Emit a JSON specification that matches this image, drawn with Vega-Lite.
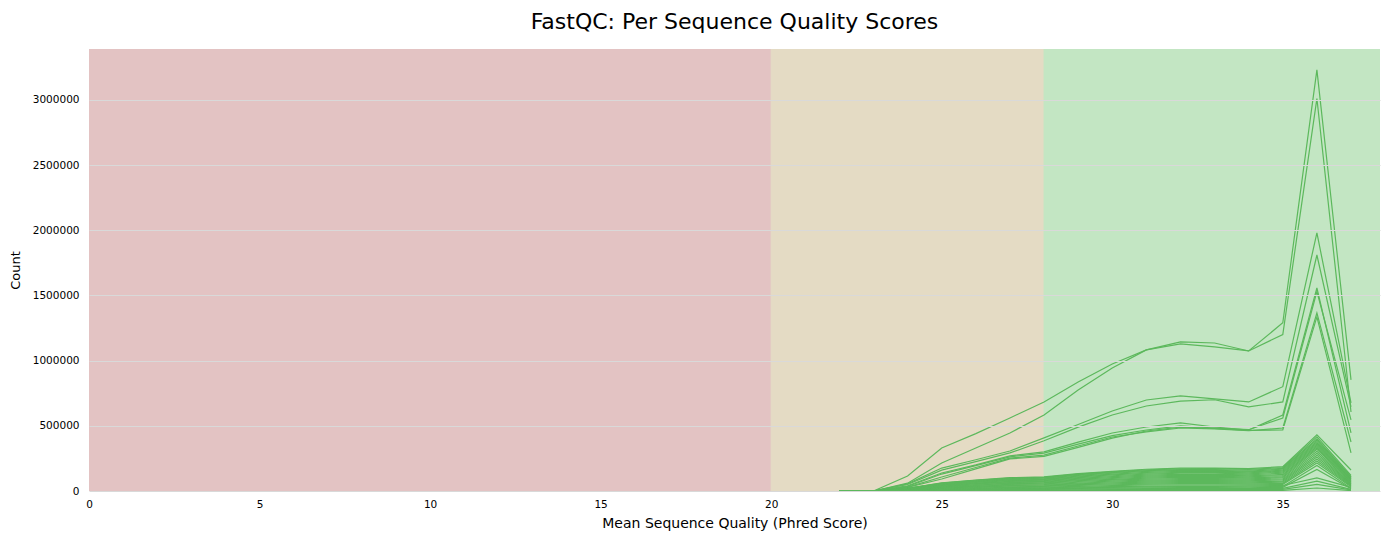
{
"$schema":"https://vega.github.io/schema/vega-lite/v6.json",
"autosize":{"type":"none"},
"width":1291,"height":442,
"padding":{"left":89,"top":49,"right":9,"bottom":49},
"background":"#ffffff",
"config":{"font":"DejaVu Sans","view":{"stroke":null},
"axis":{"labelFont":"DejaVu Sans","titleFont":"DejaVu Sans","labelFontSize":10.5,"titleFontSize":13,"titleFontWeight":"normal","labelColor":"#000000","titleColor":"#000000","ticks":false,"domain":false,"labelFlush":false}},
"title":{"text":"FastQC: Per Sequence Quality Scores","fontSize":22,"fontWeight":"normal","font":"DejaVu Sans","color":"#000000","anchor":"middle","offset":15},
"datasets":{
"bands":[{"zone":"fail","start":0,"end":20},{"zone":"warn","start":20,"end":28},{"zone":"pass","start":28,"end":38}],
"series":[
{"s":"T1","q":22,"c":0},{"s":"T1","q":23,"c":0},{"s":"T1","q":24,"c":115000},{"s":"T1","q":25,"c":330000},{"s":"T1","q":26,"c":440000},{"s":"T1","q":27,"c":560000},{"s":"T1","q":28,"c":683000},{"s":"T1","q":29,"c":836000},{"s":"T1","q":30,"c":974000},{"s":"T1","q":31,"c":1082000},{"s":"T1","q":32,"c":1128000},{"s":"T1","q":33,"c":1105000},{"s":"T1","q":34,"c":1074000},{"s":"T1","q":35,"c":1290000},{"s":"T1","q":36,"c":3230000},{"s":"T1","q":37,"c":852000},
{"s":"T2","q":22,"c":0},{"s":"T2","q":23,"c":0},{"s":"T2","q":24,"c":60000},{"s":"T2","q":25,"c":215000},{"s":"T2","q":26,"c":330000},{"s":"T2","q":27,"c":445000},{"s":"T2","q":28,"c":583000},{"s":"T2","q":29,"c":775000},{"s":"T2","q":30,"c":944000},{"s":"T2","q":31,"c":1082000},{"s":"T2","q":32,"c":1143000},{"s":"T2","q":33,"c":1135000},{"s":"T2","q":34,"c":1074000},{"s":"T2","q":35,"c":1200000},{"s":"T2","q":36,"c":3010000},{"s":"T2","q":37,"c":606000},
{"s":"M1","q":22,"c":0},{"s":"M1","q":23,"c":0},{"s":"M1","q":24,"c":55000},{"s":"M1","q":25,"c":176000},{"s":"M1","q":26,"c":240000},{"s":"M1","q":27,"c":307000},{"s":"M1","q":28,"c":407000},{"s":"M1","q":29,"c":510000},{"s":"M1","q":30,"c":614000},{"s":"M1","q":31,"c":698000},{"s":"M1","q":32,"c":729000},{"s":"M1","q":33,"c":706000},{"s":"M1","q":34,"c":683000},{"s":"M1","q":35,"c":800000},{"s":"M1","q":36,"c":1980000},{"s":"M1","q":37,"c":675000},
{"s":"M2","q":22,"c":0},{"s":"M2","q":23,"c":0},{"s":"M2","q":24,"c":50000},{"s":"M2","q":25,"c":160000},{"s":"M2","q":26,"c":225000},{"s":"M2","q":27,"c":292000},{"s":"M2","q":28,"c":385000},{"s":"M2","q":29,"c":490000},{"s":"M2","q":30,"c":583000},{"s":"M2","q":31,"c":652000},{"s":"M2","q":32,"c":690000},{"s":"M2","q":33,"c":700000},{"s":"M2","q":34,"c":645000},{"s":"M2","q":35,"c":683000},{"s":"M2","q":36,"c":1810000},{"s":"M2","q":37,"c":645000},
{"s":"M3","q":22,"c":0},{"s":"M3","q":23,"c":0},{"s":"M3","q":24,"c":40000},{"s":"M3","q":25,"c":138000},{"s":"M3","q":26,"c":200000},{"s":"M3","q":27,"c":269000},{"s":"M3","q":28,"c":300000},{"s":"M3","q":29,"c":375000},{"s":"M3","q":30,"c":445000},{"s":"M3","q":31,"c":491000},{"s":"M3","q":32,"c":522000},{"s":"M3","q":33,"c":491000},{"s":"M3","q":34,"c":468000},{"s":"M3","q":35,"c":583000},{"s":"M3","q":36,"c":1557000},{"s":"M3","q":37,"c":445000},
{"s":"M4","q":22,"c":0},{"s":"M4","q":23,"c":0},{"s":"M4","q":24,"c":35000},{"s":"M4","q":25,"c":130000},{"s":"M4","q":26,"c":195000},{"s":"M4","q":27,"c":262000},{"s":"M4","q":28,"c":290000},{"s":"M4","q":29,"c":360000},{"s":"M4","q":30,"c":425000},{"s":"M4","q":31,"c":468000},{"s":"M4","q":32,"c":499000},{"s":"M4","q":33,"c":483000},{"s":"M4","q":34,"c":470000},{"s":"M4","q":35,"c":560000},{"s":"M4","q":36,"c":1530000},{"s":"M4","q":37,"c":545000},
{"s":"M5","q":22,"c":0},{"s":"M5","q":23,"c":0},{"s":"M5","q":24,"c":30000},{"s":"M5","q":25,"c":107000},{"s":"M5","q":26,"c":180000},{"s":"M5","q":27,"c":252000},{"s":"M5","q":28,"c":275000},{"s":"M5","q":29,"c":345000},{"s":"M5","q":30,"c":414000},{"s":"M5","q":31,"c":453000},{"s":"M5","q":32,"c":483000},{"s":"M5","q":33,"c":476000},{"s":"M5","q":34,"c":462000},{"s":"M5","q":35,"c":483000},{"s":"M5","q":36,"c":1366000},{"s":"M5","q":37,"c":376000},
{"s":"M6","q":22,"c":0},{"s":"M6","q":23,"c":0},{"s":"M6","q":24,"c":28000},{"s":"M6","q":25,"c":92000},{"s":"M6","q":26,"c":170000},{"s":"M6","q":27,"c":246000},{"s":"M6","q":28,"c":265000},{"s":"M6","q":29,"c":335000},{"s":"M6","q":30,"c":406000},{"s":"M6","q":31,"c":460000},{"s":"M6","q":32,"c":490000},{"s":"M6","q":33,"c":480000},{"s":"M6","q":34,"c":465000},{"s":"M6","q":35,"c":468000},{"s":"M6","q":36,"c":1335000},{"s":"M6","q":37,"c":292000},
{"s":"L01","q":22,"c":0},{"s":"L01","q":23,"c":0},{"s":"L01","q":24,"c":21000},{"s":"L01","q":25,"c":62000},{"s":"L01","q":26,"c":84000},{"s":"L01","q":27,"c":102000},{"s":"L01","q":28,"c":109000},{"s":"L01","q":29,"c":134000},{"s":"L01","q":30,"c":151000},{"s":"L01","q":31,"c":167000},{"s":"L01","q":32,"c":176000},{"s":"L01","q":33,"c":176000},{"s":"L01","q":34,"c":171000},{"s":"L01","q":35,"c":187000},{"s":"L01","q":36,"c":430000},{"s":"L01","q":37,"c":161000},
{"s":"L02","q":22,"c":0},{"s":"L02","q":23,"c":0},{"s":"L02","q":24,"c":20000},{"s":"L02","q":25,"c":60000},{"s":"L02","q":26,"c":82000},{"s":"L02","q":27,"c":99000},{"s":"L02","q":28,"c":105000},{"s":"L02","q":29,"c":129000},{"s":"L02","q":30,"c":146000},{"s":"L02","q":31,"c":162000},{"s":"L02","q":32,"c":170000},{"s":"L02","q":33,"c":171000},{"s":"L02","q":34,"c":165000},{"s":"L02","q":35,"c":180000},{"s":"L02","q":36,"c":415000},{"s":"L02","q":37,"c":120000},
{"s":"L03","q":22,"c":0},{"s":"L03","q":23,"c":0},{"s":"L03","q":24,"c":20000},{"s":"L03","q":25,"c":57000},{"s":"L03","q":26,"c":79000},{"s":"L03","q":27,"c":95000},{"s":"L03","q":28,"c":102000},{"s":"L03","q":29,"c":125000},{"s":"L03","q":30,"c":141000},{"s":"L03","q":31,"c":156000},{"s":"L03","q":32,"c":164000},{"s":"L03","q":33,"c":165000},{"s":"L03","q":34,"c":159000},{"s":"L03","q":35,"c":174000},{"s":"L03","q":36,"c":400000},{"s":"L03","q":37,"c":110000},
{"s":"L04","q":22,"c":0},{"s":"L04","q":23,"c":0},{"s":"L04","q":24,"c":19000},{"s":"L04","q":25,"c":55000},{"s":"L04","q":26,"c":76000},{"s":"L04","q":27,"c":92000},{"s":"L04","q":28,"c":98000},{"s":"L04","q":29,"c":120000},{"s":"L04","q":30,"c":136000},{"s":"L04","q":31,"c":150000},{"s":"L04","q":32,"c":158000},{"s":"L04","q":33,"c":158000},{"s":"L04","q":34,"c":153000},{"s":"L04","q":35,"c":167000},{"s":"L04","q":36,"c":390000},{"s":"L04","q":37,"c":106000},
{"s":"L05","q":22,"c":0},{"s":"L05","q":23,"c":0},{"s":"L05","q":24,"c":18000},{"s":"L05","q":25,"c":52000},{"s":"L05","q":26,"c":72000},{"s":"L05","q":27,"c":87000},{"s":"L05","q":28,"c":93000},{"s":"L05","q":29,"c":114000},{"s":"L05","q":30,"c":129000},{"s":"L05","q":31,"c":143000},{"s":"L05","q":32,"c":150000},{"s":"L05","q":33,"c":151000},{"s":"L05","q":34,"c":146000},{"s":"L05","q":35,"c":159000},{"s":"L05","q":36,"c":380000},{"s":"L05","q":37,"c":100000},
{"s":"L06","q":22,"c":0},{"s":"L06","q":23,"c":0},{"s":"L06","q":24,"c":17000},{"s":"L06","q":25,"c":50000},{"s":"L06","q":26,"c":69000},{"s":"L06","q":27,"c":83000},{"s":"L06","q":28,"c":89000},{"s":"L06","q":29,"c":109000},{"s":"L06","q":30,"c":123000},{"s":"L06","q":31,"c":136000},{"s":"L06","q":32,"c":143000},{"s":"L06","q":33,"c":144000},{"s":"L06","q":34,"c":139000},{"s":"L06","q":35,"c":152000},{"s":"L06","q":36,"c":370000},{"s":"L06","q":37,"c":95000},
{"s":"L07","q":22,"c":0},{"s":"L07","q":23,"c":0},{"s":"L07","q":24,"c":16000},{"s":"L07","q":25,"c":48000},{"s":"L07","q":26,"c":65000},{"s":"L07","q":27,"c":79000},{"s":"L07","q":28,"c":84000},{"s":"L07","q":29,"c":103000},{"s":"L07","q":30,"c":117000},{"s":"L07","q":31,"c":129000},{"s":"L07","q":32,"c":136000},{"s":"L07","q":33,"c":136000},{"s":"L07","q":34,"c":132000},{"s":"L07","q":35,"c":144000},{"s":"L07","q":36,"c":360000},{"s":"L07","q":37,"c":90000},
{"s":"L08","q":22,"c":0},{"s":"L08","q":23,"c":0},{"s":"L08","q":24,"c":15000},{"s":"L08","q":25,"c":45000},{"s":"L08","q":26,"c":61000},{"s":"L08","q":27,"c":74000},{"s":"L08","q":28,"c":79000},{"s":"L08","q":29,"c":97000},{"s":"L08","q":30,"c":110000},{"s":"L08","q":31,"c":122000},{"s":"L08","q":32,"c":128000},{"s":"L08","q":33,"c":128000},{"s":"L08","q":34,"c":124000},{"s":"L08","q":35,"c":136000},{"s":"L08","q":36,"c":350000},{"s":"L08","q":37,"c":85000},
{"s":"L09","q":22,"c":0},{"s":"L09","q":23,"c":0},{"s":"L09","q":24,"c":14000},{"s":"L09","q":25,"c":42000},{"s":"L09","q":26,"c":58000},{"s":"L09","q":27,"c":70000},{"s":"L09","q":28,"c":74000},{"s":"L09","q":29,"c":91000},{"s":"L09","q":30,"c":103000},{"s":"L09","q":31,"c":114000},{"s":"L09","q":32,"c":120000},{"s":"L09","q":33,"c":121000},{"s":"L09","q":34,"c":116000},{"s":"L09","q":35,"c":127000},{"s":"L09","q":36,"c":340000},{"s":"L09","q":37,"c":80000},
{"s":"L10","q":22,"c":0},{"s":"L10","q":23,"c":0},{"s":"L10","q":24,"c":13000},{"s":"L10","q":25,"c":39000},{"s":"L10","q":26,"c":54000},{"s":"L10","q":27,"c":65000},{"s":"L10","q":28,"c":69000},{"s":"L10","q":29,"c":85000},{"s":"L10","q":30,"c":96000},{"s":"L10","q":31,"c":106000},{"s":"L10","q":32,"c":112000},{"s":"L10","q":33,"c":112000},{"s":"L10","q":34,"c":109000},{"s":"L10","q":35,"c":119000},{"s":"L10","q":36,"c":330000},{"s":"L10","q":37,"c":74000},
{"s":"L11","q":22,"c":0},{"s":"L11","q":23,"c":0},{"s":"L11","q":24,"c":12000},{"s":"L11","q":25,"c":36000},{"s":"L11","q":26,"c":50000},{"s":"L11","q":27,"c":60000},{"s":"L11","q":28,"c":64000},{"s":"L11","q":29,"c":79000},{"s":"L11","q":30,"c":89000},{"s":"L11","q":31,"c":99000},{"s":"L11","q":32,"c":104000},{"s":"L11","q":33,"c":104000},{"s":"L11","q":34,"c":101000},{"s":"L11","q":35,"c":110000},{"s":"L11","q":36,"c":320000},{"s":"L11","q":37,"c":70000},
{"s":"L12","q":22,"c":0},{"s":"L12","q":23,"c":0},{"s":"L12","q":24,"c":12000},{"s":"L12","q":25,"c":34000},{"s":"L12","q":26,"c":46000},{"s":"L12","q":27,"c":56000},{"s":"L12","q":28,"c":60000},{"s":"L12","q":29,"c":73000},{"s":"L12","q":30,"c":83000},{"s":"L12","q":31,"c":91000},{"s":"L12","q":32,"c":96000},{"s":"L12","q":33,"c":96000},{"s":"L12","q":34,"c":93000},{"s":"L12","q":35,"c":102000},{"s":"L12","q":36,"c":305000},{"s":"L12","q":37,"c":64000},
{"s":"L13","q":22,"c":0},{"s":"L13","q":23,"c":0},{"s":"L13","q":24,"c":11000},{"s":"L13","q":25,"c":31000},{"s":"L13","q":26,"c":42000},{"s":"L13","q":27,"c":51000},{"s":"L13","q":28,"c":55000},{"s":"L13","q":29,"c":67000},{"s":"L13","q":30,"c":76000},{"s":"L13","q":31,"c":84000},{"s":"L13","q":32,"c":88000},{"s":"L13","q":33,"c":88000},{"s":"L13","q":34,"c":85000},{"s":"L13","q":35,"c":93000},{"s":"L13","q":36,"c":290000},{"s":"L13","q":37,"c":58000},
{"s":"L14","q":22,"c":0},{"s":"L14","q":23,"c":0},{"s":"L14","q":24,"c":10000},{"s":"L14","q":25,"c":28000},{"s":"L14","q":26,"c":38000},{"s":"L14","q":27,"c":46000},{"s":"L14","q":28,"c":50000},{"s":"L14","q":29,"c":61000},{"s":"L14","q":30,"c":69000},{"s":"L14","q":31,"c":76000},{"s":"L14","q":32,"c":80000},{"s":"L14","q":33,"c":80000},{"s":"L14","q":34,"c":78000},{"s":"L14","q":35,"c":85000},{"s":"L14","q":36,"c":275000},{"s":"L14","q":37,"c":54000},
{"s":"L15","q":22,"c":0},{"s":"L15","q":23,"c":0},{"s":"L15","q":24,"c":9000},{"s":"L15","q":25,"c":25000},{"s":"L15","q":26,"c":35000},{"s":"L15","q":27,"c":42000},{"s":"L15","q":28,"c":45000},{"s":"L15","q":29,"c":55000},{"s":"L15","q":30,"c":62000},{"s":"L15","q":31,"c":68000},{"s":"L15","q":32,"c":72000},{"s":"L15","q":33,"c":72000},{"s":"L15","q":34,"c":70000},{"s":"L15","q":35,"c":76000},{"s":"L15","q":36,"c":260000},{"s":"L15","q":37,"c":48000},
{"s":"L16","q":22,"c":0},{"s":"L16","q":23,"c":0},{"s":"L16","q":24,"c":8000},{"s":"L16","q":25,"c":22000},{"s":"L16","q":26,"c":31000},{"s":"L16","q":27,"c":37000},{"s":"L16","q":28,"c":40000},{"s":"L16","q":29,"c":49000},{"s":"L16","q":30,"c":55000},{"s":"L16","q":31,"c":61000},{"s":"L16","q":32,"c":64000},{"s":"L16","q":33,"c":64000},{"s":"L16","q":34,"c":62000},{"s":"L16","q":35,"c":68000},{"s":"L16","q":36,"c":245000},{"s":"L16","q":37,"c":43000},
{"s":"L17","q":22,"c":0},{"s":"L17","q":23,"c":0},{"s":"L17","q":24,"c":7000},{"s":"L17","q":25,"c":20000},{"s":"L17","q":26,"c":27000},{"s":"L17","q":27,"c":32000},{"s":"L17","q":28,"c":35000},{"s":"L17","q":29,"c":43000},{"s":"L17","q":30,"c":48000},{"s":"L17","q":31,"c":53000},{"s":"L17","q":32,"c":56000},{"s":"L17","q":33,"c":56000},{"s":"L17","q":34,"c":54000},{"s":"L17","q":35,"c":59000},{"s":"L17","q":36,"c":230000},{"s":"L17","q":37,"c":38000},
{"s":"L18","q":22,"c":0},{"s":"L18","q":23,"c":0},{"s":"L18","q":24,"c":6000},{"s":"L18","q":25,"c":17000},{"s":"L18","q":26,"c":23000},{"s":"L18","q":27,"c":28000},{"s":"L18","q":28,"c":30000},{"s":"L18","q":29,"c":36000},{"s":"L18","q":30,"c":41000},{"s":"L18","q":31,"c":46000},{"s":"L18","q":32,"c":48000},{"s":"L18","q":33,"c":48000},{"s":"L18","q":34,"c":47000},{"s":"L18","q":35,"c":51000},{"s":"L18","q":36,"c":215000},{"s":"L18","q":37,"c":33000},
{"s":"L19","q":22,"c":0},{"s":"L19","q":23,"c":0},{"s":"L19","q":24,"c":5000},{"s":"L19","q":25,"c":14000},{"s":"L19","q":26,"c":19000},{"s":"L19","q":27,"c":23000},{"s":"L19","q":28,"c":25000},{"s":"L19","q":29,"c":30000},{"s":"L19","q":30,"c":34000},{"s":"L19","q":31,"c":38000},{"s":"L19","q":32,"c":40000},{"s":"L19","q":33,"c":40000},{"s":"L19","q":34,"c":39000},{"s":"L19","q":35,"c":42000},{"s":"L19","q":36,"c":100000},{"s":"L19","q":37,"c":28000},
{"s":"L20","q":22,"c":0},{"s":"L20","q":23,"c":0},{"s":"L20","q":24,"c":4000},{"s":"L20","q":25,"c":12000},{"s":"L20","q":26,"c":16000},{"s":"L20","q":27,"c":19000},{"s":"L20","q":28,"c":20000},{"s":"L20","q":29,"c":25000},{"s":"L20","q":30,"c":28000},{"s":"L20","q":31,"c":31000},{"s":"L20","q":32,"c":33000},{"s":"L20","q":33,"c":33000},{"s":"L20","q":34,"c":32000},{"s":"L20","q":35,"c":35000},{"s":"L20","q":36,"c":195000},{"s":"L20","q":37,"c":22000},
{"s":"L21","q":22,"c":0},{"s":"L21","q":23,"c":0},{"s":"L21","q":24,"c":3000},{"s":"L21","q":25,"c":9000},{"s":"L21","q":26,"c":12000},{"s":"L21","q":27,"c":15000},{"s":"L21","q":28,"c":16000},{"s":"L21","q":29,"c":20000},{"s":"L21","q":30,"c":22000},{"s":"L21","q":31,"c":25000},{"s":"L21","q":32,"c":26000},{"s":"L21","q":33,"c":26000},{"s":"L21","q":34,"c":25000},{"s":"L21","q":35,"c":28000},{"s":"L21","q":36,"c":165000},{"s":"L21","q":37,"c":18000},
{"s":"L22","q":22,"c":0},{"s":"L22","q":23,"c":0},{"s":"L22","q":24,"c":2000},{"s":"L22","q":25,"c":7000},{"s":"L22","q":26,"c":9000},{"s":"L22","q":27,"c":11000},{"s":"L22","q":28,"c":12000},{"s":"L22","q":29,"c":14000},{"s":"L22","q":30,"c":16000},{"s":"L22","q":31,"c":18000},{"s":"L22","q":32,"c":19000},{"s":"L22","q":33,"c":19000},{"s":"L22","q":34,"c":18000},{"s":"L22","q":35,"c":20000},{"s":"L22","q":36,"c":75000},{"s":"L22","q":37,"c":12000},
{"s":"L23","q":22,"c":0},{"s":"L23","q":23,"c":0},{"s":"L23","q":24,"c":1000},{"s":"L23","q":25,"c":4000},{"s":"L23","q":26,"c":6000},{"s":"L23","q":27,"c":7000},{"s":"L23","q":28,"c":7000},{"s":"L23","q":29,"c":9000},{"s":"L23","q":30,"c":10000},{"s":"L23","q":31,"c":11000},{"s":"L23","q":32,"c":12000},{"s":"L23","q":33,"c":12000},{"s":"L23","q":34,"c":12000},{"s":"L23","q":35,"c":13000},{"s":"L23","q":36,"c":50000},{"s":"L23","q":37,"c":8000},
{"s":"L24","q":22,"c":0},{"s":"L24","q":23,"c":0},{"s":"L24","q":24,"c":1000},{"s":"L24","q":25,"c":2000},{"s":"L24","q":26,"c":2000},{"s":"L24","q":27,"c":3000},{"s":"L24","q":28,"c":3000},{"s":"L24","q":29,"c":4000},{"s":"L24","q":30,"c":4000},{"s":"L24","q":31,"c":5000},{"s":"L24","q":32,"c":5000},{"s":"L24","q":33,"c":5000},{"s":"L24","q":34,"c":5000},{"s":"L24","q":35,"c":5000},{"s":"L24","q":36,"c":23000},{"s":"L24","q":37,"c":3000}
]},
"layer":[
{"data":{"name":"bands"},
"mark":{"type":"rect","clip":true,"strokeWidth":1},
"encoding":{
"x":{"field":"start","type":"quantitative","scale":{"domain":[0,37.85],"nice":false,"zero":false},"axis":{"title":"Mean Sequence Quality (Phred Score)","values":[0,5,10,15,20,25,30,35],"grid":false,"labelPadding":8,"titlePadding":7,"titleFontSize":14}},
"x2":{"field":"end"},
"color":{"field":"zone","type":"nominal","scale":{"domain":["fail","warn","pass"],"range":["#e3c3c3","#e4dbc4","#c3e6c3"]},"legend":null},
"stroke":{"field":"zone","type":"nominal","scale":{"domain":["fail","warn","pass"],"range":["#e3c3c3","#e4dbc4","#c3e6c3"]},"legend":null}
}},
{"data":{"name":"series"},
"mark":{"type":"line","color":"#5cb85c","strokeWidth":1.2,"clip":true},
"encoding":{
"x":{"field":"q","type":"quantitative","scale":{"domain":[0,37.85],"nice":false,"zero":false},"axis":{"title":"Mean Sequence Quality (Phred Score)","values":[0,5,10,15,20,25,30,35],"grid":false,"labelPadding":8,"titlePadding":7,"titleFontSize":14}},
"y":{"field":"c","type":"quantitative","scale":{"domain":[0,3390000],"nice":false},"axis":{"title":"Count","values":[0,500000,1000000,1500000,2000000,2500000,3000000],"format":"d","grid":true,"gridColor":"#d9d9d9","gridWidth":1,"zindex":1,"labelPadding":10,"titlePadding":10}},
"detail":{"field":"s","type":"nominal"}
}}
]
}
